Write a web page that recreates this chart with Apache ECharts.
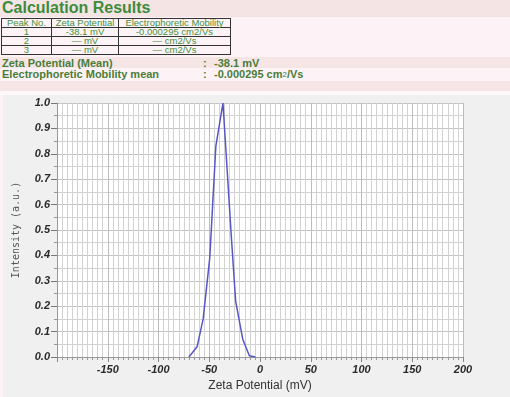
<!DOCTYPE html>
<html>
<head>
<meta charset="utf-8">
<script src="https://cdn.jsdelivr.net/npm/echarts@6/dist/echarts.min.js"></script>
<style>
  body { margin: 0; width: 510px; height: 397px; overflow: hidden; background: #fdf3f6; font-family: "Liberation Sans", Arial, sans-serif; position: relative; }
  .band { position: absolute; left: 0; width: 510px; }
  .title { position: absolute; left: 2px; top: -1px; font-size: 16px; font-weight: bold; color: #3d8b3d; white-space: nowrap; }
  table.peaks { position: absolute; left: 1px; top: 18px; border-collapse: collapse; font-size: 9.5px; color: #43913d; }
  table.peaks td { border: 1px solid #333; height: 8px; line-height: 8px; padding: 0; text-align: center; }
  .mean { position: absolute; left: 2px; font-size: 11px; font-weight: bold; color: #4a7d3a; white-space: nowrap; }
  .colon { position: absolute; left: 203px; font-size: 11px; font-weight: bold; color: #4a7d3a; }
  .val { position: absolute; left: 214px; font-size: 11px; font-weight: bold; color: #4a7d3a; white-space: nowrap; }
  .val small { font-size: 8px; font-weight: normal; vertical-align: 1px; }
  #chart { position: absolute; left: 3px; top: 95px; width: 507px; height: 302px; background: #f0f0f0; }
</style>
</head>
<body>
<div class="band" style="top:0;height:17px;background:#f4e4e4"></div>
<div class="band" style="top:57px;height:11px;background:#f5e5e5"></div>
<div class="band" style="top:81px;height:10px;background:#f5e5e5"></div>
<div class="band" style="top:91px;height:4px;background:#fff8fa"></div>
<div class="title">Calculation Results</div>
<table class="peaks">
  <tr><td style="width:49px">Peak No.</td><td style="width:66px">Zeta Potential</td><td style="width:111px">Electrophoretic Mobility</td></tr>
  <tr><td>1</td><td>-38.1 mV</td><td>-0.000295 cm2/Vs</td></tr>
  <tr><td>2</td><td>— mV</td><td>— cm2/Vs</td></tr>
  <tr><td>3</td><td>— mV</td><td>— cm2/Vs</td></tr>
</table>
<div class="mean" style="top:57px">Zeta Potential (Mean)</div>
<div class="mean" style="top:68px">Electrophoretic Mobility mean</div>
<div class="colon" style="top:57px">:</div>
<div class="colon" style="top:68px">:</div>
<div class="val" style="top:57px">-38.1 mV</div>
<div class="val" style="top:68px">-0.000295 cm<small>2</small>/Vs</div>
<div id="chart"></div>
<script>
// zeta distribution
var zeta = [-70, -62, -56, -49.5, -43.5, -36.5, -28.5, -24, -17, -10.5, -4.5];
var intensity = [0, 0.04, 0.15, 0.39, 0.83, 1.0, 0.49, 0.22, 0.07, 0.005, 0];

var xMin = -200, xMax = 200, xStep = 50;
var yMin = 0, yMax = 1, yStep = 0.1;

var points = zeta.map(function (z, i) { return [z, intensity[i]]; });

var chart = echarts.init(document.getElementById('chart'));

var labelStyle = {
  color: '#2a2a2a',
  fontSize: 11,
  fontWeight: 'bold',
  fontStyle: 'italic',
  fontFamily: 'Liberation Sans, Arial, sans-serif'
};

var option = {
  animation: false,
  backgroundColor: '#f0f0f0',
  grid: { left: 50, top: 8, right: 47, bottom: 40, backgroundColor: '#fff', show: true, borderWidth: 0 },
  xAxis: {
    type: 'value',
    min: xMin, max: xMax, interval: xStep,
    name: 'Zeta Potential (mV)',
    nameLocation: 'middle',
    nameGap: 21,
    nameTextStyle: { color: '#333', fontSize: 12, fontFamily: 'Liberation Sans, Arial, sans-serif' },
    axisLine: { show: true, onZero: false, lineStyle: { color: '#999' } },
    axisTick: { show: true, length: 5, lineStyle: { color: '#888' } },
    minorTick: { show: true, splitNumber: 10, length: 3, lineStyle: { color: '#999' } },
    axisLabel: Object.assign({ margin: 7, formatter: function (v) { return v === xMin ? '' : v; } }, labelStyle),
    splitLine: { show: true, lineStyle: { color: '#bdbdbd' } },
    minorSplitLine: { show: true, lineStyle: { color: '#d2d2d2' } }
  },
  yAxis: {
    type: 'value',
    min: yMin, max: yMax, interval: yStep,
    name: 'Intensity (a.u.)',
    nameLocation: 'middle',
    nameGap: 36,
    nameTextStyle: { color: '#555', fontSize: 10, fontFamily: 'DejaVu Sans Mono, monospace' },
    axisLine: { show: true, onZero: false, lineStyle: { color: '#999' } },
    axisTick: { show: true, length: 6, lineStyle: { color: '#777' } },
    minorTick: { show: true, splitNumber: 2, length: 3, lineStyle: { color: '#999' } },
    axisLabel: Object.assign({ margin: 7, formatter: function (v) { return v.toFixed(1); } }, labelStyle),
    splitLine: { show: true, lineStyle: { color: '#c4c4c4' } },
    minorSplitLine: { show: true, lineStyle: { color: '#d2d2d2' } }
  },
  series: [{
    type: 'line',
    data: points,
    showSymbol: false,
    lineStyle: { color: '#5656c6', width: 1.5 }
  }]
};

chart.setOption(option);
</script>
</body>
</html>
